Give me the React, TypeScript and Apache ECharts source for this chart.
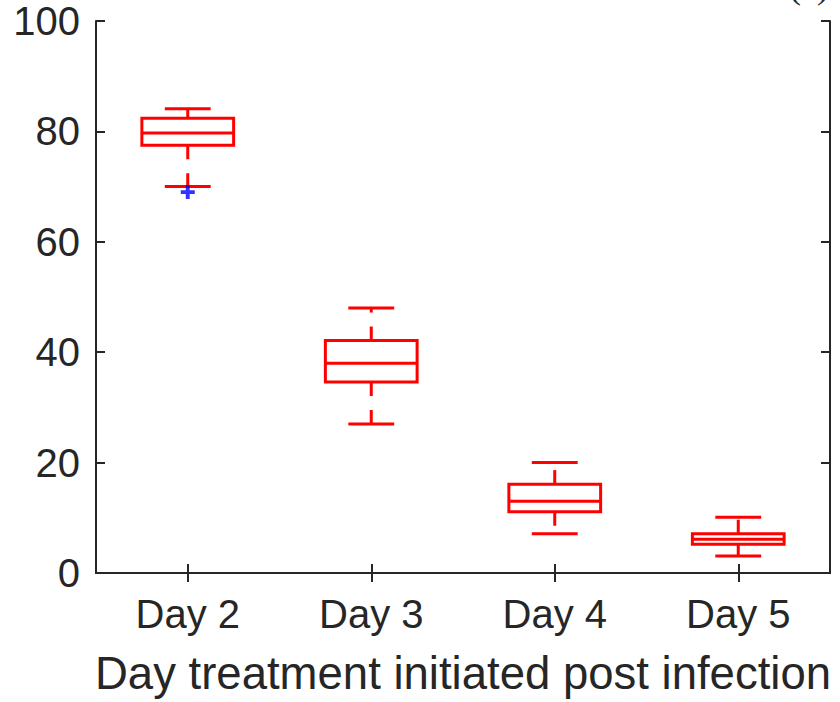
import React, { useEffect, useRef } from "react";
import * as echarts from "echarts";

const categories = ["Day 2", "Day 3", "Day 4", "Day 5"];
const whiskerLow = [70.0, 27.0, 7.1, 3.1];
const q1 = [77.5, 34.6, 11.1, 5.2];
const medians = [79.7, 38.0, 13.0, 6.1];
const q3 = [82.4, 42.1, 16.1, 7.1];
const whiskerHigh = [84.1, 48.0, 20.0, 10.1];
const outliers: [number, number][] = [[0, 69.0]];
const yTicks = [0, 20, 40, 60, 80, 100];
const xLabel = "Day treatment initiated post infection";

const FONT = "'Liberation Sans', Arial, Helvetica, sans-serif";
const AX = "#262626";
const RED = "#ff0000";

export default function App() {
  const ref = useRef<HTMLDivElement>(null);
  useEffect(() => {
    if (!ref.current) return;
    const chart = echarts.init(ref.current, null, { renderer: "svg" });
    const boxData = categories.map((_, i) => [i, whiskerLow[i], q1[i], medians[i], q3[i], whiskerHigh[i]]);
    const renderItem = (params: any, api: any) => {
      const idx = api.value(0);
      const band = api.size([1, 0])[0];
      const cx = api.coord([idx, 0])[0];
      const y = (v: number) => api.coord([idx, v])[1];
      const yLo = y(api.value(1));
      const yQ1 = y(api.value(2));
      const yMed = y(api.value(3));
      const yQ3 = y(api.value(4));
      const yHi = y(api.value(5));
      const bw = band * 0.5;
      const cw = band * 0.25;
      const solid = { stroke: RED, lineWidth: 3, fill: "none" };
      const dashed = { stroke: RED, lineWidth: 3, lineDash: [14, 14] };
      return {
        type: "group",
        children: [
          { type: "line", shape: { x1: cx, y1: yQ3, x2: cx, y2: yHi }, style: dashed },
          { type: "line", shape: { x1: cx, y1: yQ1, x2: cx, y2: yLo }, style: dashed },
          { type: "line", shape: { x1: cx - cw / 2, y1: yHi, x2: cx + cw / 2, y2: yHi }, style: solid },
          { type: "line", shape: { x1: cx - cw / 2, y1: yLo, x2: cx + cw / 2, y2: yLo }, style: solid },
          { type: "rect", shape: { x: cx - bw / 2, y: yQ3, width: bw, height: yQ1 - yQ3 }, style: solid },
          { type: "line", shape: { x1: cx - bw / 2, y1: yMed, x2: cx + bw / 2, y2: yMed }, style: solid },
        ],
      };
    };
    const axisCommonY = {
      type: "value" as const,
      min: 0,
      max: 100,
      interval: 20,
      splitLine: { show: false },
      axisLine: { show: true, lineStyle: { color: AX, width: 2 } },
      axisTick: { show: true, inside: true, length: 9, lineStyle: { color: AX, width: 2 } },
    };
    const axisCommonX = {
      type: "category" as const,
      data: categories,
      boundaryGap: true,
      axisLine: { show: true, lineStyle: { color: AX, width: 2 } },
      axisTick: { show: true, inside: true, length: 9, alignWithLabel: true, lineStyle: { color: AX, width: 2 } },
      splitLine: { show: false },
    };
    chart.setOption({
      animation: false,
      backgroundColor: "#ffffff",
      grid: { left: 96, right: 10, top: 21, bottom: 129, containLabel: false },
      xAxis: [
        {
          ...axisCommonX,
          position: "bottom",
          axisLabel: { show: true, color: AX, fontSize: 40, fontFamily: FONT, margin: 21 },
        },
        { ...axisCommonX, position: "top", axisLabel: { show: false } },
      ],
      yAxis: [
        {
          ...axisCommonY,
          position: "left",
          axisLabel: {
            show: true,
            color: AX,
            fontSize: 40,
            fontFamily: FONT,
            margin: 16,
            formatter: (v: number) => (yTicks.includes(v) ? String(v) : ""),
          },
        },
        { ...axisCommonY, position: "right", axisLabel: { show: false } },
      ],
      series: [
        {
          type: "custom",
          renderItem,
          data: boxData,
          encode: { x: 0, y: [1, 2, 3, 4, 5] },
          xAxisIndex: 0,
          yAxisIndex: 0,
          clip: false,
        },
        {
          type: "scatter",
          data: outliers,
          xAxisIndex: 0,
          yAxisIndex: 0,
          symbol: "path://M3.6,0 H6.4 V3.6 H10 V6.4 H6.4 V10 H3.6 V6.4 H0 V3.6 H3.6 Z",
          symbolSize: 14,
          itemStyle: { color: "#0000ff" },
        },
      ],
      graphic: [
        {
          type: "text",
          x: 463,
          y: 673,
          style: {
            text: xLabel,
            fill: AX,
            fontSize: 45.5,
            fontFamily: FONT,
            align: "center",
            verticalAlign: "middle",
          },
        },
        {
          type: "text",
          x: 829,
          y: -14,
          style: {
            text: "(c)",
            fill: AX,
            fontSize: 36,
            fontFamily: "'Liberation Serif', 'Times New Roman', serif",
            align: "right",
            verticalAlign: "middle",
          },
        },
      ],
    });
    return () => chart.dispose();
  }, []);
  return (
    <div
      ref={ref}
      style={{ position: "fixed", left: 0, top: 0, width: 840, height: 702, background: "#fff" }}
    />
  );
}
